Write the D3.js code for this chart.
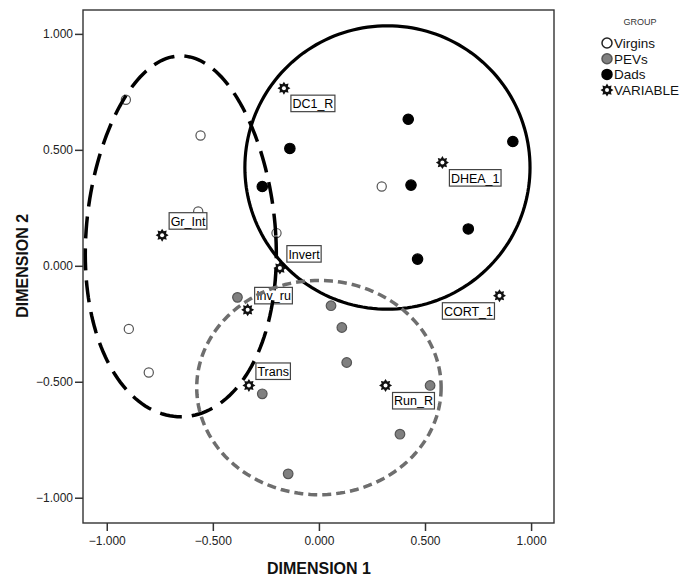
<!DOCTYPE html>
<html>
<head>
<meta charset="utf-8">
<script src="https://cdn.jsdelivr.net/npm/d3@7"></script>
<style>
  body { margin: 0; background: #fff; }
  text { font-family: "Liberation Sans", Arial, sans-serif; }
</style>
</head>
<body>
<div id="chart"></div>
<script>
// group points (dimension 1, dimension 2)
var virgins = [[-0.910, 0.716], [-0.558, 0.562], [-0.569, 0.234], [-0.200, 0.141],
               [0.296, 0.342], [-0.896, -0.272], [-0.802, -0.460]];
var pevs = [[-0.384, -0.136], [0.057, -0.172], [0.108, -0.266], [0.131, -0.417],
            [0.524, -0.516], [-0.267, -0.552], [0.382, -0.726], [-0.145, -0.897]];
var dads = [[0.421, 0.632], [0.914, 0.536], [-0.137, 0.506], [-0.267, 0.342],
            [0.434, 0.348], [0.704, 0.159], [0.465, 0.029]];

var varNames = ["DC1_R", "DHEA_1", "Gr_Int", "Invert", "Inv_ru", "CORT_1", "Trans", "Run_R"];
var varDim1 = [-0.165, 0.582, -0.739, -0.184, -0.336, 0.851, -0.330, 0.314];
var varDim2 = [0.766, 0.445, 0.132, -0.010, -0.190, -0.129, -0.516, -0.516];
// which side of the marker the label box sits on
var varLabelSide = ["se", "se", "ne", "ne", "ne", "sw", "ne", "se"];

// group outlines: centre and radii in dimension units
var ellipseCx = [-0.651, 0.323, 0.0];
var ellipseCy = [0.127, 0.424, -0.525];
var ellipseRx = [0.448, 0.672, 0.576];
var ellipseRy = [0.778, 0.611, 0.462];
// the hand drawn Virgins outline is a bit wider at the bottom
var ellipseEgg = [0.1, 0, 0];

var legendNames = ["Virgins", "PEVs", "Dads", "VARIABLE"];
var tickValues = [-1, -0.5, 0, 0.5, 1];

var margin = {top: 10, left: 83},
    width = 471,
    height = 513;

var svg = d3.select("#chart").append("svg")
    .attr("width", 692)
    .attr("height", 580);

svg.append("rect").attr("width", 692).attr("height", 580).attr("fill", "#fff");

var g = svg.append("g")
    .attr("transform", "translate(" + margin.left + "," + margin.top + ")");

var x = d3.scaleLinear().domain([-1.112, 1.108]).range([0, width]);
var y = d3.scaleLinear().domain([-1.109, 1.103]).range([height, 0]);

var fmt = d3.format(".3f");

var yAxis = g.append("g")
    .call(d3.axisLeft(y).tickValues(tickValues).tickFormat(fmt).tickSize(8).tickPadding(2));
var xAxis = g.append("g")
    .attr("transform", "translate(0," + height + ")")
    .call(d3.axisBottom(x).tickValues(tickValues).tickFormat(fmt).tickSize(8).tickPadding(5));

[xAxis, yAxis].forEach(function(a) {
    a.select(".domain").remove();
    a.selectAll("line").attr("stroke", "#333").attr("stroke-width", 1.5);
    a.selectAll("text")
        .attr("fill", "#222")
        .style("font-size", "12px")
        .style("font-family", "Liberation Sans, Arial, sans-serif");
});

g.append("rect")
    .attr("width", width)
    .attr("height", height)
    .attr("fill", "none")
    .attr("stroke", "#333")
    .attr("stroke-width", 1.4);

// axis titles
svg.append("text")
    .attr("x", margin.left + x(0))
    .attr("y", 574)
    .attr("text-anchor", "middle")
    .style("font-size", "16px")
    .style("font-weight", "bold")
    .attr("fill", "#111")
    .text("DIMENSION 1");

svg.append("text")
    .attr("transform", "translate(28," + (margin.top + y(0)) + ") rotate(-90)")
    .attr("text-anchor", "middle")
    .style("font-size", "16px")
    .style("font-weight", "bold")
    .attr("fill", "#111")
    .text("DIMENSION 2");

// star marker used for the variables
function starPath(r1, r2) {
    var pts = [];
    for (var i = 0; i < 16; i++) {
        var a = Math.PI * i / 8 - Math.PI / 2;
        var r = i % 2 === 0 ? r1 : r2;
        pts.push([r * Math.cos(a), r * Math.sin(a)]);
    }
    return d3.line()(pts) + "Z";
}
function drawStar(sel, cx, cy) {
    var s = sel.append("g").attr("transform", "translate(" + cx + "," + cy + ")");
    s.append("path").attr("d", starPath(6.5, 4.2)).attr("fill", "#111");
    s.append("circle").attr("r", 2).attr("fill", "#fff");
}

var groupStyle = {
    Virgins: {fill: "#fff", stroke: "#555", r: 4.6},
    PEVs: {fill: "#808080", stroke: "#555", r: 4.8},
    Dads: {fill: "#000", stroke: "#000", r: 5.2}
};

function drawPoints(data, style) {
    g.append("g").selectAll("circle")
        .data(data)
        .enter().append("circle")
        .attr("cx", function(d) { return x(d[0]); })
        .attr("cy", function(d) { return y(d[1]); })
        .attr("r", style.r)
        .attr("fill", style.fill)
        .attr("stroke", style.stroke)
        .attr("stroke-width", 1.2);
}
drawPoints(virgins, groupStyle.Virgins);
drawPoints(pevs, groupStyle.PEVs);
drawPoints(dads, groupStyle.Dads);

// variables: star plus boxed label
var varLayer = g.append("g");
varNames.forEach(function(name, i) {
    drawStar(varLayer, x(varDim1[i]), y(varDim2[i]));
});
varNames.forEach(function(name, i) {
    var px = x(varDim1[i]), py = y(varDim2[i]);
    var lab = varLayer.append("g");
    var rect = lab.append("rect");
    var t = lab.append("text")
        .style("font-size", "12.5px")
        .attr("fill", "#000")
        .text(name);
    var w = t.node().getComputedTextLength() + 3, h = 16.5;
    var side = varLabelSide[i];
    var bx = side === "sw" ? px - 5 - w : px + 7;
    var by = side === "ne" ? py - 6 - h : py + 7;
    rect.attr("x", bx).attr("y", by).attr("width", w).attr("height", h)
        .attr("fill", "#fff").attr("stroke", "#444").attr("stroke-width", 1.2);
    t.attr("x", bx + 1.5).attr("y", by + 13);
});

// outlines around the groups
var ellipseStyle = [
    {stroke: "#000", dash: "22,10", width: 3.5},
    {stroke: "#000", dash: null, width: 3.2},
    {stroke: "#6e6e6e", dash: "9,5", width: 3.5}
];
var outline = d3.line().curve(d3.curveLinearClosed);
ellipseCx.forEach(function(c, i) {
    var pts = d3.range(0, 2 * Math.PI, Math.PI / 90).map(function(t) {
        var k = 1 + ellipseEgg[i] * Math.sin(t);
        return [x(c + ellipseRx[i] * k * Math.cos(t)),
                y(ellipseCy[i] - ellipseRy[i] * Math.sin(t))];
    });
    g.append("path")
        .attr("d", outline(pts))
        .attr("fill", "none")
        .attr("stroke", ellipseStyle[i].stroke)
        .attr("stroke-width", ellipseStyle[i].width)
        .attr("stroke-dasharray", ellipseStyle[i].dash);
});

// legend
var legend = svg.append("g").attr("transform", "translate(607,0)");
legend.append("text")
    .attr("x", 33).attr("y", 25)
    .attr("text-anchor", "middle")
    .style("font-size", "9px")
    .attr("fill", "#333")
    .text("GROUP");

legendNames.forEach(function(name, i) {
    var ly = 43 + i * 15.7;
    if (name === "VARIABLE") {
        drawStar(legend, 0, ly);
    } else {
        var st = groupStyle[name];
        legend.append("circle")
            .attr("cx", 0).attr("cy", ly)
            .attr("r", 5)
            .attr("fill", st.fill)
            .attr("stroke", name === "Virgins" ? "#222" : st.stroke)
            .attr("stroke-width", 1.5);
    }
    legend.append("text")
        .attr("x", 7).attr("y", ly + 5)
        .style("font-size", "13.5px")
        .attr("fill", "#111")
        .text(name);
});
</script>
</body>
</html>
